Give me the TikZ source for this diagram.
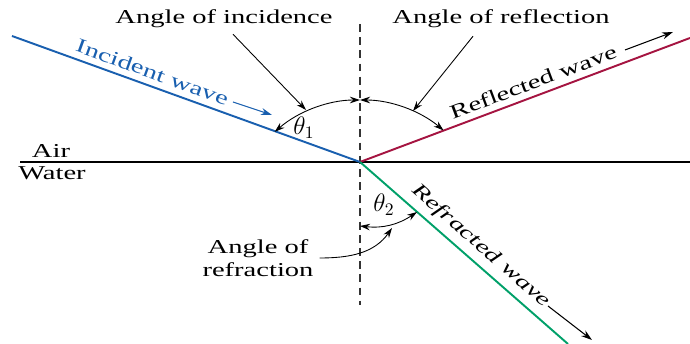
\documentclass[tikz,border=0pt]{standalone}
\usepackage{fontspec}
\setmainfont{Liberation Serif}[FakeStretch=1.45]
\usepackage{tikz}
\usetikzlibrary{arrows.meta, calc}

\definecolor{incblue}{RGB}{25,95,175}
\definecolor{reflred}{RGB}{165,20,65}
\definecolor{refrgreen}{RGB}{0,160,105}

\begin{document}
\begin{tikzpicture}[
    x=0.02cm, y=0.02cm,
    font=\fontsize{11.2}{13}\selectfont,
    ray/.style={line width=1.1pt},
    leader/.style={-{Stealth[length=2mm, width=1.3mm]}, line width=0.5pt},
    angarrow/.style={{Stealth[length=2mm, width=1.3mm]}-{Stealth[length=2mm, width=1.3mm]}, line width=0.5pt},
    dirarrow/.style={-{Stealth[length=2.2mm, width=1.4mm]}, line width=0.6pt},
    raylabel/.style={sloped, above=0.5pt},
    anglabel/.style={font=\fontsize{14}{16}\selectfont},
]
\useasboundingbox (0,0) rectangle (690,344);

% Interface and normal
\coordinate (O) at (360,182);
\coordinate (west) at (20,182);
\coordinate (east) at (690,182);
\coordinate (ntop) at (360,320);
\coordinate (nbot) at (360,39);
\draw[line width=1pt] (west) -- (east);
\draw[line width=0.6pt, black!80, dash pattern=on 4.5pt off 3pt] (ntop) -- (nbot);

\node[anchor=base] (air) at (51,186) {Air};
\node[anchor=base] (water) at (52,164) {Water};

% Rays
\coordinate (src) at (12,308);
\coordinate (rfl) at (690,306);
\coordinate (rfr) at (568,0);
\draw[ray, incblue] (src) -- (O);
\draw[ray, reflred] (O) -- (rfl);
\draw[ray, refrgreen] (O) -- (rfr);

% Ray labels with direction arrows
\path (src) -- (O) node[raylabel, pos=0.39, text=incblue] (inclab) {Incident wave};
\draw[dirarrow, incblue] (233,242) -- (272,229);
\path (O) -- (rfl) node[raylabel, pos=0.54] (refllab) {Reflected wave};
\draw[dirarrow] (625,294) -- (673,312);
\path (O) -- (rfr) node[raylabel, pos=0.53] (refrlab) {\itshape Refracted wave};
\draw[dirarrow] (548,38) -- (592,4);

% Angles
\coordinate (C) at (360,114);
\draw[angarrow] ($(C)+(131:130)$) arc[start angle=131, end angle=90, radius=130];
\draw[angarrow] ($(C)+(90:130)$) arc[start angle=90, end angle=50, radius=130];
\node[anglabel] (th1) at (304,216) {$\theta_1$};
\coordinate (n2) at (360,118);
\coordinate (r2) at (417,132);
\draw[angarrow] (n2) to[bend right=20] (r2);
\node[anglabel] (th2) at (384,139) {$\theta_2$};

% Angle names and leaders
\node (ainc) at (224,325) {Angle of incidence};
\node (arefl) at (501,325) {Angle of reflection};
\node[align=center] (arefr) at (258,86) {Angle of\\refraction};
\coordinate (t1) at (306,234);
\coordinate (t2) at (413,233);
\coordinate (t3) at (392,116);
\draw[leader] ($(ainc.south)+(9,0)$) -- (t1);
\draw[leader] ($(arefl.south)+(-28,-2)$) -- (t2);
\draw[leader] (arefr.east) to[out=0, in=235] (t3);
\end{tikzpicture}
\end{document}
